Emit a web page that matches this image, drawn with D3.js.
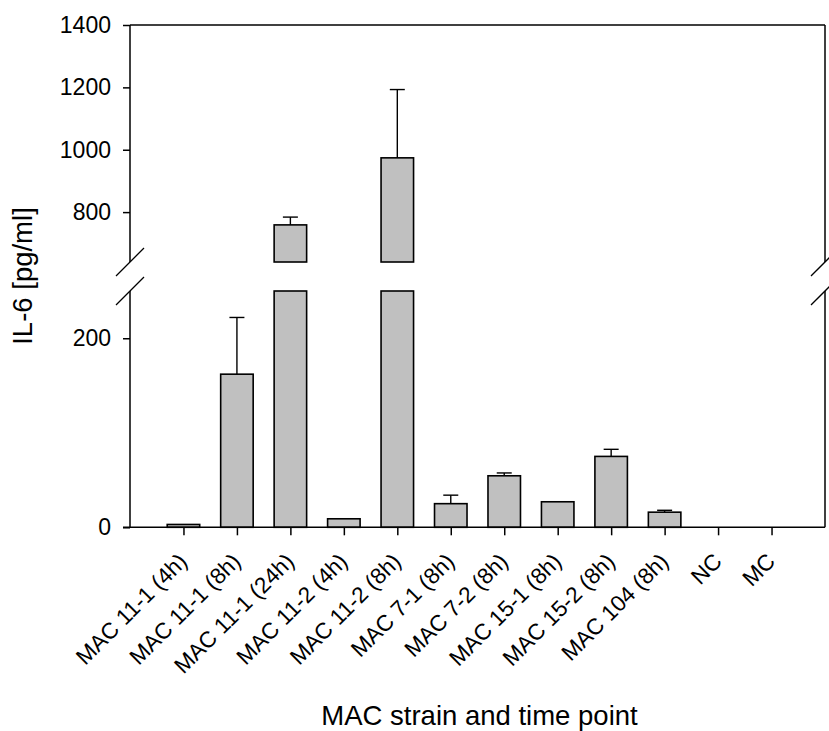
<!DOCTYPE html>
<html>
<head>
<meta charset="utf-8">
<script src="https://cdn.jsdelivr.net/npm/d3@7"></script>
<style>
  html, body { margin: 0; padding: 0; background: #fff; }
  svg { display: block; font-family: Arial, "Liberation Sans", sans-serif; }
</style>
</head>
<body>
<svg id="chart" width="829" height="731"></svg>
<script>
// IL-6 release per MAC strain and time point (mean + SD)
const categories = [
  "MAC 11-1 (4h)", "MAC 11-1 (8h)", "MAC 11-1 (24h)", "MAC 11-2 (4h)",
  "MAC 11-2 (8h)", "MAC 7-1 (8h)", "MAC 7-2 (8h)", "MAC 15-1 (8h)",
  "MAC 15-2 (8h)", "MAC 104 (8h)", "NC", "MC"
];
const means  = [3, 162, 759, 9, 974, 25, 54.5, 27, 75, 16, 0, 0];
const errors = [0, 60, 25, 0, 219, 9, 3, 0, 7.5, 2, 0, 0];

const lowerTicks = [0, 200];
const upperTicks = [800, 1000, 1200, 1400];
const lowerDomain = [0, 250];
const upperDomain = [640, 1400];

const xTitle = "MAC strain and time point";
const yTitle = "IL-6 [pg/ml]";

// Plot frame
const plotLeft = 130, plotRight = 825;
const plotTop = 25, plotBottom = 527.3;
const lowerTop = 291, upperBottom = 262;

const svg = d3.select("#chart");

const x = d3.scalePoint().domain(categories).range([plotLeft, plotRight]).padding(1);
const yLow = d3.scaleLinear().domain(lowerDomain).range([plotBottom, lowerTop]);
const yHigh = d3.scaleLinear().domain(upperDomain).range([upperBottom, plotTop]);
const barW = 32.5;

const fill = "#c0c0c0";
const fontStack = "Arial, 'Liberation Sans', sans-serif";

// Bars: lower segment, plus upper segment where a value crosses the break
const g = svg.append("g");
means.forEach((v, i) => {
  if (v <= 0) return;
  const cx = x(categories[i]);
  const lowTop = Math.min(v, lowerDomain[1]);
  g.append("rect")
    .attr("x", cx - barW / 2)
    .attr("y", yLow(lowTop))
    .attr("width", barW)
    .attr("height", yLow(0) - yLow(lowTop))
    .attr("fill", fill)
    .attr("stroke", "#000")
    .attr("stroke-width", 1.6);
  if (v > upperDomain[0]) {
    g.append("rect")
      .attr("x", cx - barW / 2)
      .attr("y", yHigh(v))
      .attr("width", barW)
      .attr("height", yHigh(upperDomain[0]) - yHigh(v))
      .attr("fill", fill)
      .attr("stroke", "#000")
      .attr("stroke-width", 1.6);
  }
  // Upper error bar
  const e = errors[i];
  if (e > 0) {
    const yy = v > upperDomain[0] ? yHigh : yLow;
    g.append("line")
      .attr("x1", cx).attr("x2", cx)
      .attr("y1", yy(v)).attr("y2", yy(v + e))
      .attr("stroke", "#000").attr("stroke-width", 1.4);
    g.append("line")
      .attr("x1", cx - 7.5).attr("x2", cx + 7.5)
      .attr("y1", yy(v + e)).attr("y2", yy(v + e))
      .attr("stroke", "#000").attr("stroke-width", 1.4);
  }
});

// Frame lines
const frame = svg.append("g").attr("stroke", "#000").attr("stroke-width", 1.5).attr("fill", "none");
frame.append("line").attr("x1", plotLeft).attr("x2", plotRight).attr("y1", plotTop).attr("y2", plotTop);
frame.append("line").attr("x1", plotLeft).attr("x2", plotLeft).attr("y1", plotTop).attr("y2", upperBottom);
frame.append("line").attr("x1", plotLeft).attr("x2", plotLeft).attr("y1", lowerTop).attr("y2", plotBottom);
frame.append("line").attr("x1", plotRight).attr("x2", plotRight).attr("y1", plotTop).attr("y2", upperBottom);
frame.append("line").attr("x1", plotRight).attr("x2", plotRight).attr("y1", lowerTop).attr("y2", plotBottom);

// Axis break marks
[plotLeft, plotRight].forEach(bx => {
  [upperBottom, lowerTop].forEach(by => {
    frame.append("line")
      .attr("x1", bx - 14).attr("y1", by + 14)
      .attr("x2", bx + 14).attr("y2", by - 14)
      .attr("stroke-width", 1.3);
  });
});

// Y axes (upper and lower segments)
function styleAxis(sel) {
  sel.select(".domain").remove();
  sel.selectAll(".tick line").attr("stroke", "#000").attr("stroke-width", 1.5);
  sel.selectAll(".tick text").attr("font-size", 23).attr("fill", "#000")
    .attr("font-family", fontStack);
}
const fmt = d3.format("d");
svg.append("g").attr("transform", `translate(${plotLeft},0)`)
  .call(d3.axisLeft(yHigh).tickValues(upperTicks).tickFormat(fmt).tickSize(7).tickPadding(12))
  .call(styleAxis);
svg.append("g").attr("transform", `translate(${plotLeft},0)`)
  .call(d3.axisLeft(yLow).tickValues(lowerTicks).tickFormat(fmt).tickSize(7).tickPadding(12))
  .call(styleAxis);

// X axis with rotated category labels
const xAxis = svg.append("g").attr("transform", `translate(0,${plotBottom})`)
  .call(d3.axisBottom(x).tickSize(8).tickSizeOuter(0))
  .call(sel => {
    sel.select(".domain").remove();
    sel.selectAll(".tick line").attr("stroke", "#000").attr("stroke-width", 1.5);
  });
xAxis.selectAll(".tick text")
  .attr("font-size", 22.5).attr("fill", "#000")
  .attr("font-family", fontStack)
  .attr("text-anchor", "end")
  .attr("y", 0)
  .attr("dy", "0.35em")
  .attr("transform", "translate(-1,30) rotate(-45)");
frame.append("line").attr("x1", plotLeft - 7).attr("x2", plotRight).attr("y1", plotBottom).attr("y2", plotBottom);

// Titles
svg.append("text")
  .attr("x", (plotLeft + plotRight) / 2 + 2)
  .attr("y", 725)
  .attr("text-anchor", "middle")
  .attr("font-size", 27.5)
  .attr("font-family", fontStack)
  .text(xTitle);
svg.append("text")
  .attr("transform", `translate(32,276) rotate(-90)`)
  .attr("text-anchor", "middle")
  .attr("font-size", 27.5)
  .attr("font-family", fontStack)
  .text(yTitle);
</script>
</body>
</html>
